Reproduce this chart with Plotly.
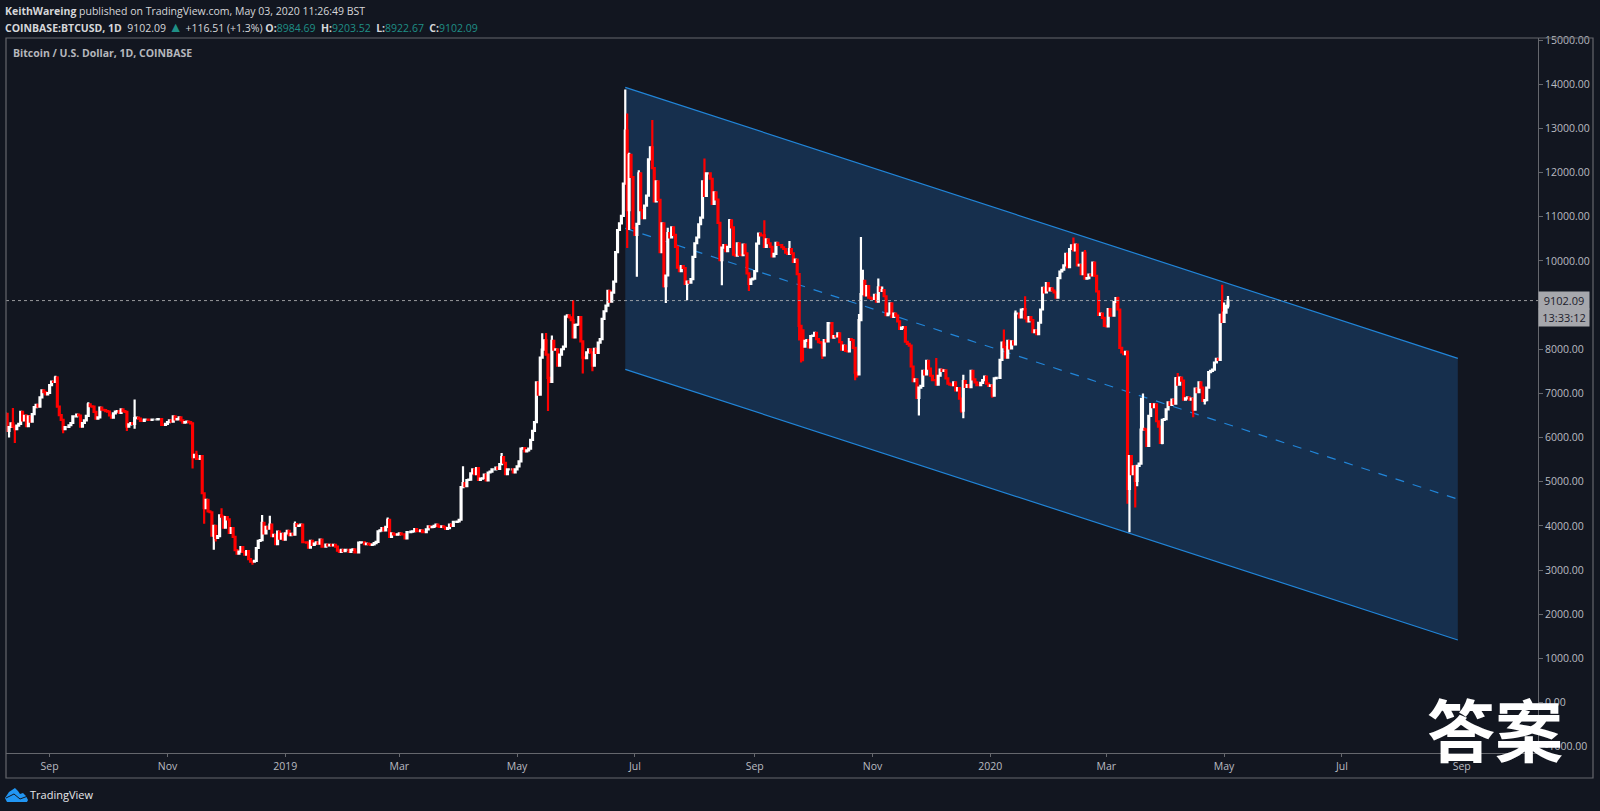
import pandas as pd
import plotly.graph_objects as go

# daily closes, one list per month
c_2018_08 = [6540, 6150, 6240, 6320, 6250, 6190, 6270, 6310, 6580, 6390, 6490, 6260, 6480, 6360, 6530, 6690, 6740, 6700, 6910, 7070, 7030, 6980, 7010]
c_2018_09 = [7190, 7270, 7260, 7360, 6700, 6510, 6400, 6190, 6240, 6240, 6280, 6330, 6480, 6480, 6520, 6500, 6250, 6330, 6390, 6490, 6750, 6710, 6700, 6580, 6430, 6460, 6680, 6630, 6620, 6600]
c_2018_10 = [6590, 6500, 6450, 6550, 6590, 6600, 6560, 6640, 6600, 6580, 6250, 6300, 6330, 6310, 6440, 6450, 6430, 6380, 6380, 6410, 6410, 6400, 6400, 6410, 6410, 6410, 6420, 6420, 6290, 6290, 6310]
c_2018_11 = [6350, 6390, 6360, 6480, 6410, 6420, 6460, 6390, 6340, 6350, 6360, 6350, 6320, 5560, 5610, 5520, 5520, 5580, 4740, 4400, 4590, 4330, 4310, 3780, 4000, 3730, 3770, 4240, 4210, 3960]
c_2018_12 = [4200, 4150, 3840, 3950, 3750, 3450, 3370, 3420, 3520, 3410, 3350, 3430, 3250, 3190, 3190, 3210, 3500, 3660, 3680, 4070, 3830, 3980, 3940, 4030, 3770, 3800, 3590, 3870, 3710, 3820, 3690]
c_2019_01 = [3830, 3890, 3790, 3820, 3800, 4040, 4000, 4010, 4030, 3630, 3630, 3620, 3510, 3660, 3570, 3600, 3630, 3600, 3690, 3530, 3530, 3580, 3560, 3570, 3560, 3570, 3530, 3440, 3410, 3460, 3430]
c_2019_02 = [3460, 3460, 3410, 3460, 3470, 3400, 3400, 3620, 3630, 3630, 3590, 3600, 3590, 3570, 3580, 3610, 3640, 3880, 3900, 3950, 3900, 3980, 4140, 3750, 3830, 3810, 3800, 3810]
c_2019_03 = [3830, 3810, 3810, 3720, 3860, 3860, 3870, 3880, 3930, 3880, 3880, 3900, 3860, 3860, 3920, 3990, 3970, 3980, 4000, 4030, 3990, 3980, 3990, 3970, 3930, 3950, 4030, 4000, 4090, 4090, 4100]
c_2019_04 = [4140, 4880, 4970, 4900, 5040, 5050, 5190, 5280, 5170, 5310, 5040, 5070, 5080, 5160, 5030, 5210, 5230, 5280, 5280, 5320, 5290, 5400, 5560, 5430, 5170, 5280, 5280, 5280, 5210, 5280]
c_2019_05 = [5350, 5460, 5750, 5760, 5690, 5710, 5750, 5950, 6150, 6350, 7250, 6970, 7810, 7990, 8200, 7880, 7350, 7260, 8190, 7990, 8000, 7630, 7880, 8000, 8060, 8740, 8770, 8720, 8660, 8270, 8550]
c_2019_06 = [8560, 8730, 8180, 7810, 7800, 7930, 8000, 7930, 7630, 8010, 7920, 8150, 8230, 8690, 8860, 8990, 9320, 9080, 9280, 9530, 10200, 10700, 10850, 11020, 11750, 12950, 11150, 12400, 11900, 10750]
c_2019_07 = [10590, 10840, 11980, 11150, 10970, 11250, 11480, 12300, 12570, 12100, 11350, 11800, 11380, 10200, 10850, 9430, 9670, 10630, 10530, 10760, 10590, 10320, 9850, 9770, 9880, 9840, 9480, 9530, 9510, 9590, 10090]
c_2019_08 = [10400, 10530, 10830, 10980, 11800, 11470, 11980, 11980, 11860, 11290, 11550, 11390, 10860, 10020, 10300, 10360, 10220, 10320, 10920, 10760, 10140, 10120, 10400, 10140, 10130, 10370, 10170, 9720, 9480, 9580, 9600]
c_2019_09 = [9770, 10390, 10620, 10580, 10580, 10320, 10490, 10400, 10320, 10100, 10160, 10410, 10360, 10360, 10310, 10270, 10190, 10160, 10270, 10170, 9980, 10030, 9700, 8530, 8430, 8060, 8190, 8210, 8040, 8300]
c_2019_10 = [8310, 8370, 8230, 8160, 8150, 7860, 8210, 8180, 8590, 8590, 8260, 8300, 8290, 8360, 8160, 7990, 8080, 7960, 7950, 8230, 8210, 8030, 7470, 7430, 8660, 9250, 9550, 9220, 9430, 9170, 9150]
c_2019_11 = [9140, 9230, 9080, 9400, 9320, 9340, 9200, 8770, 8810, 9040, 8730, 8810, 8760, 8630, 8460, 8490, 8500, 8170, 8120, 8080, 7610, 7280, 7320, 6900, 7130, 7170, 7510, 7430, 7740, 7560]
c_2019_12 = [7400, 7300, 7300, 7200, 7400, 7540, 7510, 7520, 7340, 7220, 7200, 7190, 7250, 7070, 7120, 6880, 6610, 7280, 7150, 7190, 7140, 7510, 7320, 7250, 7190, 7190, 7240, 7300, 7380, 7220, 7170]
c_2020_01 = [7180, 6950, 7340, 7350, 7350, 7760, 8150, 8050, 7810, 8190, 8020, 8180, 8110, 8810, 8810, 8720, 8900, 8910, 8700, 8630, 8730, 8660, 8390, 8430, 8340, 8600, 8900, 9390, 9290, 9500, 9330]
c_2020_02 = [9380, 9330, 9290, 9170, 9610, 9760, 9800, 9900, 10160, 9860, 10270, 10350, 10240, 10370, 9900, 9910, 9700, 10180, 9600, 9610, 9690, 9670, 9960, 9660, 9310, 8780, 8810, 8710, 8530]
c_2020_03 = [8520, 8910, 8760, 8760, 9070, 9160, 8900, 8030, 7930, 7890, 7940, 4840, 5580, 5170, 5350, 5020, 5360, 5410, 6180, 6200, 6180, 5810, 6490, 6760, 6690, 6750, 6370, 6250, 5880, 6400, 6420]
c_2020_04 = [6640, 6800, 6740, 6860, 6770, 7340, 7200, 7360, 7290, 6860, 6890, 6910, 6860, 6880, 6630, 7110, 7030, 7250, 7130, 6830, 6850, 7130, 7480, 7510, 7540, 7700, 7780, 7760, 8780, 8620]
c_2020_05 = [8830, 8984.69, 9102.09]

month_closes = [("2018-08-09", c_2018_08), ("2018-09-01", c_2018_09), ("2018-10-01", c_2018_10),
                ("2018-11-01", c_2018_11), ("2018-12-01", c_2018_12), ("2019-01-01", c_2019_01),
                ("2019-02-01", c_2019_02), ("2019-03-01", c_2019_03), ("2019-04-01", c_2019_04),
                ("2019-05-01", c_2019_05), ("2019-06-01", c_2019_06), ("2019-07-01", c_2019_07),
                ("2019-08-01", c_2019_08), ("2019-09-01", c_2019_09), ("2019-10-01", c_2019_10),
                ("2019-11-01", c_2019_11), ("2019-12-01", c_2019_12), ("2020-01-01", c_2020_01),
                ("2020-02-01", c_2020_02), ("2020-03-01", c_2020_03), ("2020-04-01", c_2020_04),
                ("2020-05-01", c_2020_05)]

# wicks that stick out on the chart
wick_highs = {"2018-08-13": 6670, "2018-08-17": 6600, "2018-08-20": 6530, "2018-09-04": 7400, "2018-09-05": 7390,
              "2018-09-21": 6800, "2018-10-15": 6860, "2018-11-16": 5700, "2018-11-29": 4400, "2018-12-20": 4250,
              "2018-12-24": 4230, "2019-01-06": 4100, "2019-02-23": 4190, "2019-04-03": 5350, "2019-04-23": 5650,
              "2019-05-14": 8360, "2019-05-16": 8370, "2019-05-19": 8310, "2019-05-30": 9110, "2019-06-26": 13880,
              "2019-06-27": 13340, "2019-06-28": 12450, "2019-07-03": 12050, "2019-07-10": 13190, "2019-07-18": 10750,
              "2019-08-06": 12320, "2019-08-19": 10950, "2019-09-06": 10920, "2019-09-19": 10450, "2019-10-26": 10540,
              "2019-10-27": 9800, "2019-10-25": 8800, "2019-11-04": 9600, "2019-11-06": 9420, "2019-12-04": 7800,
              "2019-12-18": 7420, "2020-01-08": 8450, "2020-01-14": 8880, "2020-01-19": 9200, "2020-02-13": 10530,
              "2020-02-19": 10250, "2020-03-07": 9190, "2020-03-12": 7970, "2020-03-19": 6900, "2020-03-20": 7000,
              "2020-04-06": 7370, "2020-04-07": 7460, "2020-04-30": 9460, "2020-05-01": 9060, "2020-05-03": 9203.52}
wick_lows = {"2018-08-11": 6000, "2018-08-14": 5880, "2018-09-08": 6100, "2018-10-11": 6150, "2018-10-15": 6200,
             "2018-11-14": 5300, "2018-11-20": 4050, "2018-11-25": 3460, "2018-11-26": 3650, "2018-12-15": 3120,
             "2019-05-17": 6600, "2019-06-04": 7450, "2019-06-09": 7500, "2019-06-27": 10290, "2019-06-28": 10700,
             "2019-07-02": 9640, "2019-07-16": 9400, "2019-07-17": 9050, "2019-07-28": 9110, "2019-08-15": 9450,
             "2019-08-29": 9320, "2019-09-24": 8200, "2019-09-25": 7700, "2019-09-26": 7730, "2019-10-06": 7780,
             "2019-10-23": 7300, "2019-10-24": 7360, "2019-11-25": 6500, "2019-12-17": 6560, "2019-12-18": 6440,
             "2020-01-02": 6900, "2020-03-12": 4500, "2020-03-13": 3858, "2020-03-16": 4420, "2020-03-17": 4900,
             "2020-03-30": 5850, "2020-04-15": 6460, "2020-04-21": 6750, "2020-05-03": 8922.67}

# regression channel
channel_dates = ["2019-06-26", "2020-08-30"]
channel_upper = [13930, 7795]
channel_mid = [10738, 4606]
channel_lower = [7546, 1417]

last_price = 9102.09

y_ticks = [15000, 14000, 13000, 12000, 11000, 10000, 9000, 8000, 7000, 6000, 5000, 4000, 3000, 2000, 1000, 0, -1000]
x_tick_dates = ["2018-09-01", "2018-11-01", "2019-01-01", "2019-03-01", "2019-05-01", "2019-07-01", "2019-09-01",
                "2019-11-01", "2020-01-01", "2020-03-01", "2020-05-01", "2020-07-01", "2020-09-01"]
x_tick_labels = ["Sep", "Nov", "2019", "Mar", "May", "Jul", "Sep", "Nov", "2020", "Mar", "May", "Jul", "Sep"]

dates = []
closes = []
for start, vals in month_closes:
    dates += [d.strftime("%Y-%m-%d") for d in pd.date_range(start, periods=len(vals))]
    closes += vals
opens = [6400] + closes[:-1]
highs = [max(o, c, wick_highs.get(d, 0)) for o, c, d in zip(opens, closes, dates)]
lows = [min(o, c, wick_lows.get(d, 99999)) for o, c, d in zip(opens, closes, dates)]

BG = "#121620"
FRAME = "#65676d"
TICK = "#b9bbc0"
FONT = "Open Sans"

W, H = 1600, 811
L, R, T, B = 6, 1538, 38, 753


# only the frame and logo are placed in pixels
def px(x):
    return (x - L) / (R - L)


def py(y):
    return (B - y) / (B - T)


def pix_path(points):
    return "M" + " L".join(f"{px(x):.5f},{py(y):.5f}" for x, y in points) + " Z"


fig = go.Figure()
fig.add_trace(go.Candlestick(
    x=dates, open=opens, high=highs, low=lows, close=closes,
    increasing=dict(line=dict(color="#ffffff", width=2.2), fillcolor="#ffffff"),
    decreasing=dict(line=dict(color="#ff0000", width=2.2), fillcolor="#ff0000"),
    whiskerwidth=0, showlegend=False, hoverinfo="skip",
))

shapes = []
d0, d1 = channel_dates
shapes.append(dict(type="path", xref="x", yref="y", layer="below", fillcolor="#162f4d", line=dict(width=0),
                   path=f"M {d0},{channel_upper[0]} L {d1},{channel_upper[1]} L {d1},{channel_lower[1]} L {d0},{channel_lower[0]} Z"))
for vals, dash in [(channel_upper, "solid"), (channel_lower, "solid"), (channel_mid, "dash")]:
    shapes.append(dict(type="line", xref="x", yref="y", layer="below", x0=d0, x1=d1, y0=vals[0], y1=vals[1],
                       line=dict(color="#2185d8", width=1.2, dash=dash)))
shapes.append(dict(type="line", xref="paper", yref="y", x0=0, x1=1, y0=last_price, y1=last_price,
                   line=dict(color="#bdbdbd", width=0.8, dash="dot")))
# outer frame
shapes.append(dict(type="rect", xref="paper", yref="paper", x0=0, x1=px(1593), y0=py(778), y1=1,
                   line=dict(color=FRAME, width=1.2)))
# logo
shapes.append(dict(type="path", xref="paper", yref="paper", fillcolor="#2196f3", line=dict(width=0),
                   path=pix_path([(5, 798), (9, 792), (12, 790), (15, 788), (18, 791), (20, 794), (23, 793), (26, 796),
                                  (28, 800), (27, 802), (7, 802)])))
shapes.append(dict(type="path", xref="paper", yref="paper", line=dict(color=BG, width=1),
                   path="M" + " L".join(f"{px(x):.5f},{py(y):.5f}" for x, y in [(6, 798), (14, 794), (20, 799), (28, 796)])))

G = "#1f8f86"
SP = "&nbsp;&nbsp;"
header1 = "<b>KeithWareing</b> published on TradingView.com, May 03, 2020 11:26:49 BST"
header2 = (f"<b>COINBASE:BTCUSD, 1D</b>{SP}9102.09 <span style='color:{G};font-size:14px'>▲</span> +116.51 (+1.3%) "
           f"<b>O:</b><span style='color:{G}'>8984.69</span>{SP}<b>H:</b><span style='color:{G}'>9203.52</span>{SP}"
           f"<b>L:</b><span style='color:{G}'>8922.67</span>{SP}<b>C:</b><span style='color:{G}'>9102.09</span>")


def note(text, x, y, size, color="#d6d7da", font=FONT, **kw):
    return dict(text=text, xref="paper", yref="paper", x=px(x), y=py(y), showarrow=False, xanchor="left",
                yanchor="middle", font=dict(family=font, size=size, color=color), **kw)


annotations = [
    note(header1, 3, 11, 10.5),
    note(header2, 3, 26, 10.5),
    note("<b>Bitcoin / U.S. Dollar, 1D, COINBASE</b>", 11, 53, 10.5, color="#b5b7bc"),
    note("TradingView", 28, 794, 11, color="#e6e7ea"),
    dict(text=f"{last_price:.2f}", xref="paper", yref="y", x=1, y=last_price, showarrow=False, xanchor="left",
         yanchor="middle", width=50, height=17, bgcolor="#a6a7ac", borderpad=0, yshift=0,
         font=dict(family=FONT, size=11, color="#1c202b")),
    dict(text="13:33:12", xref="paper", yref="y", x=1, y=last_price, showarrow=False, xanchor="left",
         yanchor="middle", width=50, height=17, bgcolor="#a6a7ac", borderpad=0, yshift=-17,
         font=dict(family=FONT, size=11, color="#1c202b")),
    note("<b>答案</b>", 1425, 727, 68, color="#ffffff", font="Noto Sans CJK SC"),
]

fig.update_layout(
    width=W, height=H,
    margin=dict(l=L, r=W - R, t=T, b=H - B, pad=0),
    paper_bgcolor=BG, plot_bgcolor=BG,
    showlegend=False,
    shapes=shapes,
    annotations=annotations,
    font=dict(family=FONT, size=11, color=TICK),
    xaxis=dict(range=["2018-08-09 10:00", "2020-10-10 12:00"], rangeslider=dict(visible=False), showgrid=False,
               zeroline=False, showline=True, linecolor=FRAME, linewidth=1, tickmode="array",
               tickvals=x_tick_dates, ticktext=x_tick_labels, ticks="outside", ticklen=3, tickcolor=FRAME,
               tickfont=dict(size=10.5, color=TICK)),
    yaxis=dict(range=[-1141, 15047], side="right", showgrid=False, zeroline=False, showline=True, linecolor=FRAME,
               linewidth=1, tickmode="array", tickvals=y_ticks, ticktext=[f"{v:.2f}" for v in y_ticks],
               ticks="outside", ticklen=4, tickcolor=FRAME, tickfont=dict(size=10.5, color=TICK)),
)

fig.write_html("out.html", config=dict(displayModeBar=False), post_script="document.body.style.margin='0';")
